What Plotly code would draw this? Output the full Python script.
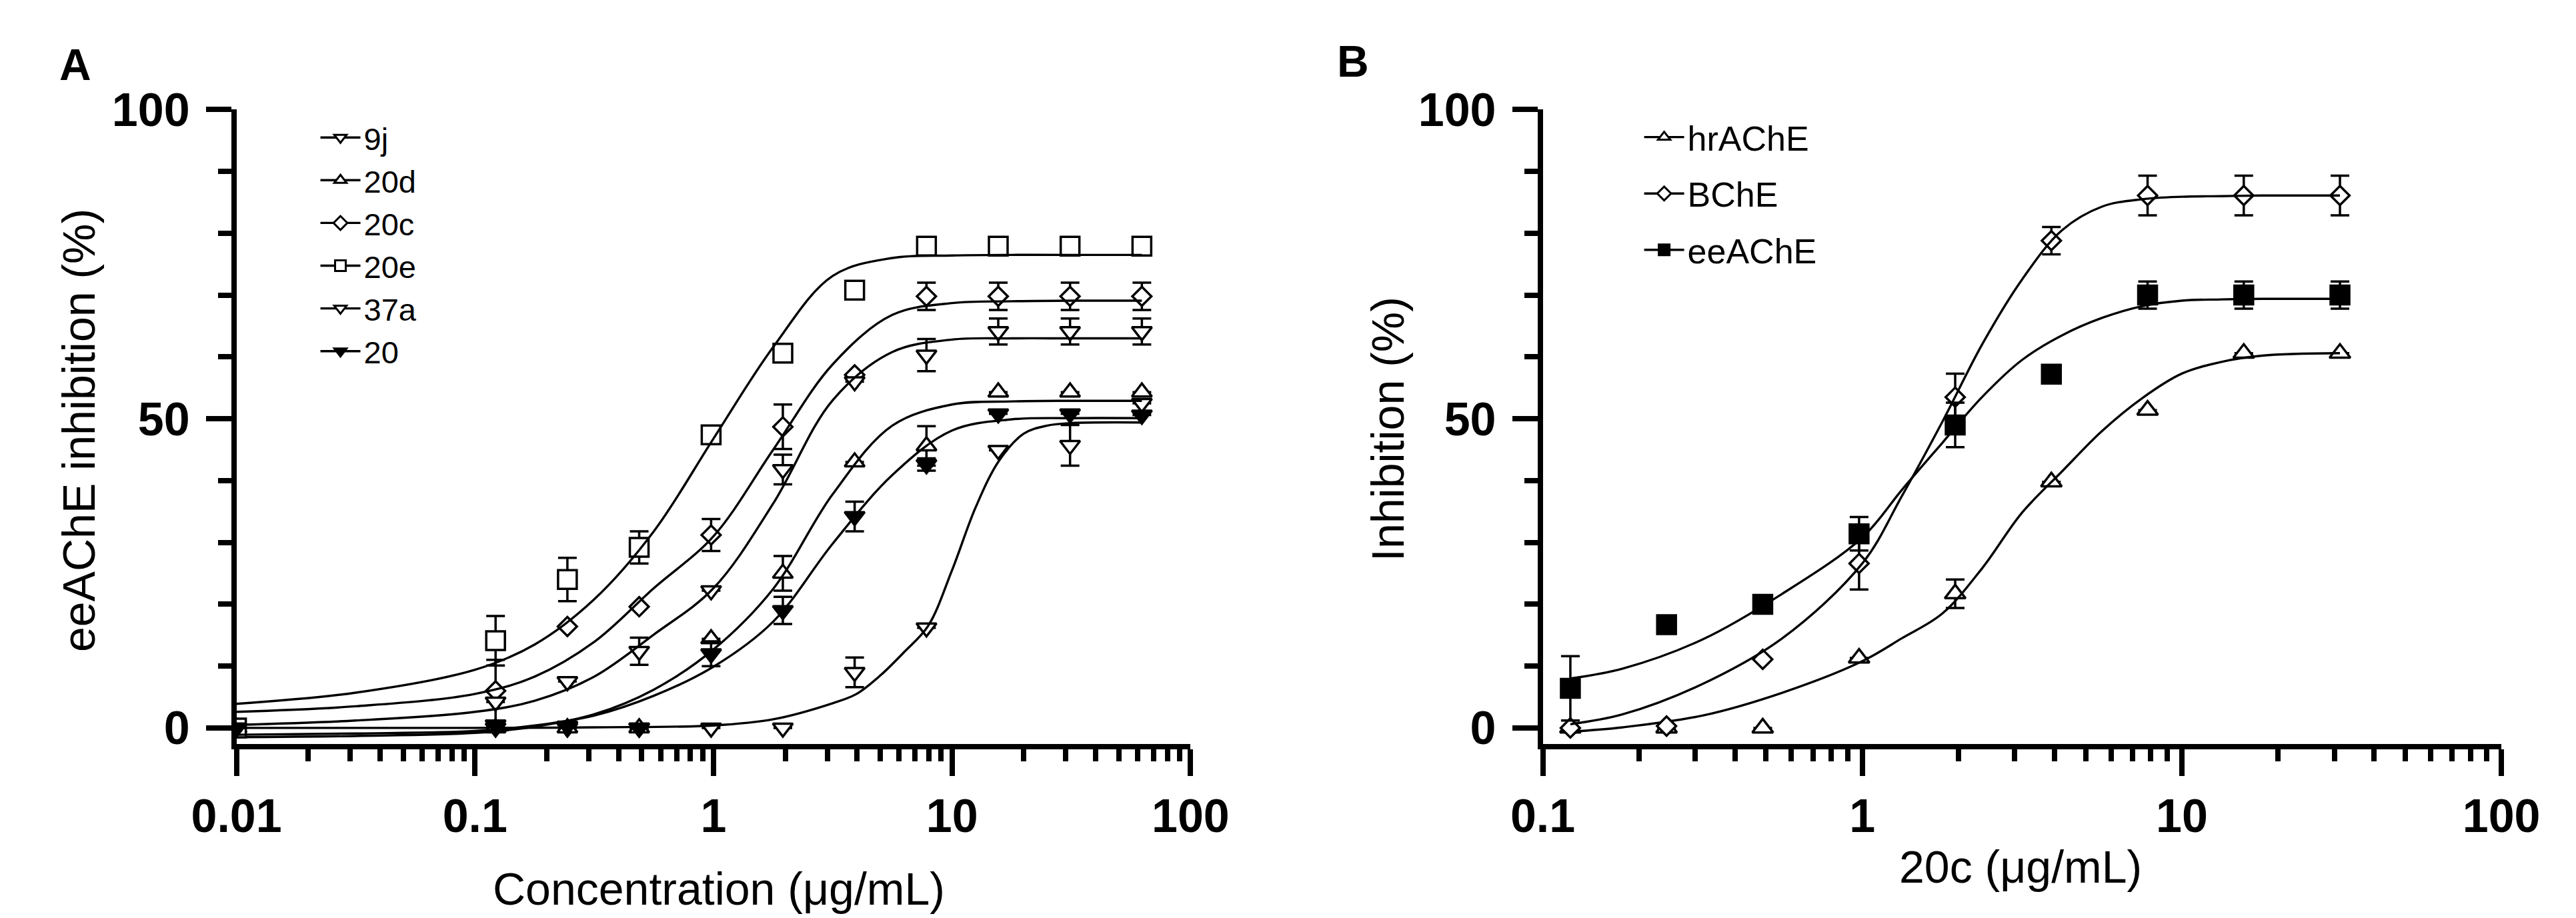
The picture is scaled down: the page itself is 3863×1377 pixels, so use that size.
import plotly.graph_objects as go

# ---- Panel A: eeAChE inhibition by compound -------------------------------
conc_a = [0.01, 0.122, 0.244, 0.488, 0.977, 1.953, 3.906, 7.813, 15.625, 31.25, 62.5]

a_9j = [0, 0, 0, 0, 0, 0, 9.0, 16.2, 44.9, 45.7, 52.5]
a_9j_err = [0, 0, 0, 0, 0, 0, 2.4, 0, 0, 3.3, 0]
a_20d = [0, 0, 0, 0, 14.4, 25.0, 43.0, 45.6, 54.3, 54.3, 54.3]
a_20d_err = [0, 0, 0, 0, 0, 2.8, 0, 3.2, 0, 0, 0]
a_20c = [0, 6.0, 16.4, 19.6, 31.2, 48.7, 57.1, 69.8, 69.8, 69.8, 69.8]
a_20c_err = [0, 5.0, 0, 0, 2.6, 3.6, 0, 2.2, 2.2, 2.2, 2.2]
a_20e = [0, 14.1, 24.0, 29.2, 47.4, 60.6, 70.8, 77.9, 77.9, 77.9, 77.9]
a_20e_err = [0, 4.0, 3.5, 2.6, 0, 0, 0, 0, 0, 0, 0]
a_37a = [0, 4.2, 7.5, 12.4, 22.2, 41.8, 56.0, 60.3, 64.1, 64.1, 64.1]
a_37a_err = [0, 0, 0, 2.2, 0, 2.4, 0, 2.6, 2.1, 2.1, 2.1]
a_20 = [0, 0.5, 0.3, 0, 12.0, 19.0, 34.2, 42.6, 50.8, 50.8, 50.6]
a_20_err = [0, 0, 0, 0, 2.0, 2.2, 2.4, 1.0, 0, 0, 0]

# fitted curves
fit_x_a = [0.01, 0.0316, 0.1, 0.178, 0.316, 0.562, 1.0, 1.78, 3.16, 5.62, 10.0, 17.8, 31.6, 62.5]
fit_20e = [3.9, 5.7, 9.4, 13.5, 20.8, 31.8, 46.8, 61.6, 73.1, 76.0, 76.4, 76.5, 76.5, 76.5]
fit_20c = [2.6, 3.5, 5.5, 8.3, 13.9, 22.6, 31.0, 45.0, 58.8, 66.8, 68.7, 69.0, 69.1, 69.1]
fit_37a = [0.5, 1.2, 2.6, 4.4, 8.3, 15.1, 22.6, 36.3, 53.0, 60.8, 62.8, 63.0, 63.0, 63.0]
fit_20d = [-1.5, -1.3, -0.8, 0.2, 2.2, 6.2, 12.7, 22.5, 37.8, 48.9, 52.3, 52.8, 52.9, 52.9]
fit_20 = [-1.1, -0.9, -0.5, 0.4, 2.0, 5.2, 9.9, 17.2, 29.8, 40.9, 48.1, 49.9, 50.1, 50.1]
fit_x_9j = [0.01, 0.1, 0.316, 1.0, 1.78, 3.16, 3.98, 5.01, 6.31, 7.94, 10.0, 12.6, 15.8, 20.0, 25.1, 31.6, 62.5]
fit_9j = [0, 0, 0.1, 0.4, 1.4, 4.0, 5.5, 8.5, 12.3, 16.5, 25.5, 35.8, 43.3, 47.6, 48.9, 49.3, 49.4]

# ---- Panel B: 20c against three enzymes -----------------------------------
conc_b = [0.122, 0.244, 0.488, 0.977, 1.953, 3.906, 7.813, 15.625, 31.25]

b_hr = [0, 0, 0, 11.3, 21.7, 39.8, 51.4, 60.6, 60.6]
b_hr_err = [0, 0, 0, 0, 2.3, 0, 0, 0, 0]
b_bche = [0, 0.3, 11.1, 26.6, 53.5, 78.8, 86.1, 86.1, 86.1]
b_bche_err = [0, 0, 0, 4.2, 3.8, 2.2, 3.2, 3.2, 3.2]
b_ee = [6.4, 16.7, 20.0, 31.4, 49.0, 57.2, 70.0, 70.0, 70.0]
b_ee_err = [5.2, 0, 0, 2.7, 3.6, 0, 2.2, 2.2, 2.2]

fit_x_b = [0.122, 0.178, 0.316, 0.562, 1.0, 1.33, 1.78, 2.37, 3.16, 4.22, 5.62, 7.5, 10.0, 13.3, 17.8, 31.25]
fit_hr = [-0.6, 0.1, 2.0, 5.7, 10.8, 14.5, 18.5, 25.8, 34.8, 41.5, 48.0, 53.3, 57.3, 59.2, 60.2, 60.6]
fit_bche = [0.6, 2.2, 7.1, 14.5, 26.6, 37.5, 49.5, 62.0, 72.5, 80.5, 84.3, 85.5, 85.9, 86.0, 86.1, 86.1]
fit_ee = [8.0, 9.6, 14.3, 21.7, 30.8, 38.5, 46.1, 53.5, 59.5, 63.5, 66.3, 68.2, 69.1, 69.3, 69.4, 69.4]

W, H = 3863, 1377
FONT = "Liberation Sans, Arial, sans-serif"

fig = go.Figure()


def add_series(x, y, err, fx, fy, name, symbol, size, filled, xa, ya, legend):
    fill = "black" if filled else "white"
    fig.add_trace(go.Scatter(
        x=x, y=y, mode="markers", showlegend=False, xaxis=xa, yaxis=ya,
        error_y=dict(type="data", array=err, visible=True, color="black",
                     thickness=3.5, width=14),
        marker=dict(symbol=symbol, size=size, color=fill,
                    line=dict(color="black", width=3.5)),
    ))
    fig.add_trace(go.Scatter(
        x=fx, y=fy, mode="lines", showlegend=False, xaxis=xa, yaxis=ya,
        line=dict(color="black", width=3.4, shape="spline", smoothing=1.0),
        hoverinfo="skip",
    ))
    # legend-only entry (line + marker)
    fig.add_trace(go.Scatter(
        x=[None], y=[None], mode="lines+markers", name=name, xaxis=xa, yaxis=ya,
        legend=legend, legendgroup=name,
        line=dict(color="black", width=3.4),
        marker=dict(symbol=symbol, size=size, color=fill,
                    line=dict(color="black", width=3)),
    ))


add_series(conc_a, a_9j, a_9j_err, fit_x_9j, fit_9j, "9j", "triangle-down", 26, False, "x", "y", "legend")
add_series(conc_a, a_20d, a_20d_err, fit_x_a, fit_20d, "20d", "triangle-up", 26, False, "x", "y", "legend")
add_series(conc_a, a_20c, a_20c_err, fit_x_a, fit_20c, "20c", "diamond", 22, False, "x", "y", "legend")
add_series(conc_a, a_20e, a_20e_err, fit_x_a, fit_20e, "20e", "square", 28, False, "x", "y", "legend")
add_series(conc_a, a_37a, a_37a_err, fit_x_a, fit_37a, "37a", "triangle-down", 26, False, "x", "y", "legend")
add_series(conc_a, a_20, a_20_err, fit_x_a, fit_20, "20", "triangle-down", 26, True, "x", "y", "legend")

add_series(conc_b, b_hr, b_hr_err, fit_x_b, fit_hr, "hrAChE", "triangle-up", 27, False, "x2", "y2", "legend2")
add_series(conc_b, b_bche, b_bche_err, fit_x_b, fit_bche, "BChE", "diamond", 22, False, "x2", "y2", "legend2")
add_series(conc_b, b_ee, b_ee_err, fit_x_b, fit_ee, "eeAChE", "square", 28, True, "x2", "y2", "legend2")


def px(v):
    return v / W


def py(v):
    return 1 - v / H


minor_a = [m * 10 ** e for e in range(-2, 2) for m in range(2, 10)]
minor_b = [m * 10 ** e for e in range(-1, 2) for m in range(2, 10)]

tickfont = dict(family=FONT, size=70, color="black", weight="bold")
common_x = dict(
    type="log", showline=True, linewidth=8, linecolor="black", showgrid=False,
    zeroline=False, ticks="outside", ticklen=40, tickwidth=8, tickcolor="black",
    tickfont=tickfont, ticklabelstandoff=0,
)
common_y = dict(
    range=[-2.6, 100], showline=True, linewidth=8, linecolor="black", showgrid=False,
    zeroline=False, ticks="outside", ticklen=38, tickwidth=8, tickcolor="black",
    tickvals=[0, 50, 100], tickfont=tickfont, ticklabelstandoff=10,
    minor=dict(ticks="outside", tickvals=[10, 20, 30, 40, 60, 70, 80, 90],
               ticklen=20, tickwidth=8, tickcolor="black"),
)


def label(text, x, y, size=68, angle=0):
    return dict(text=text, x=px(x), y=py(y), xref="paper", yref="paper",
                xanchor="center", yanchor="middle", showarrow=False,
                textangle=angle, font=dict(family=FONT, size=size, color="black"))


fig.update_layout(
    width=W, height=H,
    margin=dict(l=0, r=0, t=0, b=0),
    paper_bgcolor="white", plot_bgcolor="white",
    font=dict(family=FONT, color="black"),
    xaxis=dict(domain=[px(288), px(1767)], range=[-2, 2], anchor="y",
               tickvals=[0.01, 0.1, 1, 10, 100], ticktext=["0.01", "0.1", "1", "10", "100"],
               minor=dict(ticks="outside", tickvals=minor_a, ticklen=18, tickwidth=8,
                          tickcolor="black"),
               **common_x),
    yaxis=dict(domain=[py(1112), py(123)], anchor="x", **common_y),
    xaxis2=dict(domain=[px(2313), px(3799)], range=[-1, 2], anchor="y2",
                tickvals=[0.1, 1, 10, 100], ticktext=["0.1", "1", "10", "100"],
                minor=dict(ticks="outside", tickvals=minor_b, ticklen=18, tickwidth=8,
                           tickcolor="black"),
                **common_x),
    yaxis2=dict(domain=[py(1112), py(123)], anchor="x2", **common_y),
    legend=dict(x=px(413), y=py(128), xanchor="left", yanchor="top",
                font=dict(family=FONT, size=47, color="black"),
                bgcolor="rgba(0,0,0,0)", itemwidth=60, tracegroupgap=0),
    legend2=dict(x=px(2465), y=py(124), xanchor="left", yanchor="top",
                 font=dict(family=FONT, size=52, color="black"),
                 bgcolor="rgba(0,0,0,0)", itemwidth=60, tracegroupgap=14),
    annotations=[
        label("<b>A</b>", 38, 53, size=66),
        label("<b>B</b>", 2019, 48, size=66),
        label("Concentration (μg/mL)", 1036, 1337),
        label("20c (μg/mL)", 3054, 1303),
        label("eeAChE inhibition (%)", 44, 623, angle=-90),
        label("Inhibition (%)", 2072, 621, angle=-90),
    ],
)

fig.write_html("out.html")
